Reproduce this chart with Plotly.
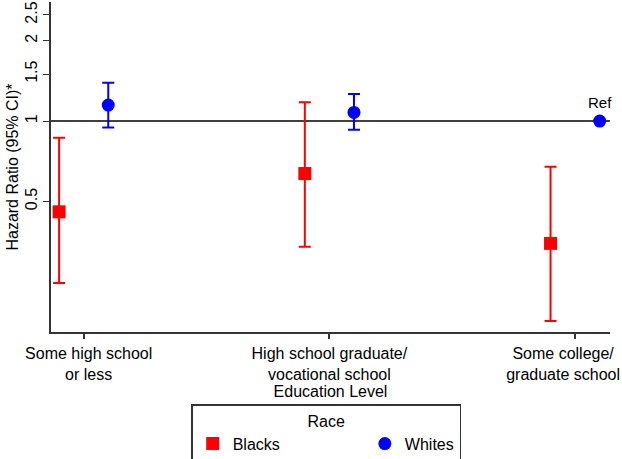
import math
import plotly.graph_objects as go

# categories on the x axis
education = ["Some high school<br>or less",
             "High school graduate/<br>vocational school",
             "Some college/<br>graduate school"]
cat_pos = [1, 2, 3]

# hazard ratios with 95% CI
black_hr = [0.457, 0.636, 0.348]
black_lo = [0.247, 0.338, 0.178]
black_hi = [0.866, 1.178, 0.674]

white_hr = [1.148, 1.078, 1.0]
white_lo = [0.947, 0.928, None]   # last one is the reference group
white_hi = [1.392, 1.263, None]

y_ticks = [0.5, 1, 1.5, 2, 2.5]

FONT = "Liberation Sans, Arial, sans-serif"
offset = 0.1
NB = "\u00a0"
X_RANGE = [0.867, 3.142]
PLOT_W = 622 - 51 - 12


def err(hr, lo, hi):
    up = [None if h is None else h - v for v, h in zip(hr, hi)]
    dn = [None if l is None else v - l for v, l in zip(hr, lo)]
    return up, dn


b_up, b_dn = err(black_hr, black_lo, black_hi)
w_up, w_dn = err(white_hr, white_lo, white_hi)

# stata nudges the outer labels inwards so they stay on the page (px)
label_nudge = [5, 0, -12]
px = (X_RANGE[1] - X_RANGE[0]) / PLOT_W
label_pos = [c + n * px for c, n in zip(cat_pos, label_nudge)]

fig = go.Figure()

# trailing spaces on "Blacks" spread the two legend keys apart like the original
fig.add_trace(go.Scatter(
    x=[c - offset for c in cat_pos], y=black_hr, mode="markers",
    name="Blacks" + NB * 18,
    marker=dict(symbol="square", size=13, color="#ff0000"),
    error_y=dict(type="data", symmetric=False, array=b_up, arrayminus=b_dn,
                 color="#ff0000", thickness=2, width=6),
))
fig.add_trace(go.Scatter(
    x=[c + offset for c in cat_pos], y=white_hr, mode="markers", name="Whites",
    marker=dict(symbol="circle", size=13, color="#0000ff"),
    error_y=dict(type="data", symmetric=False, array=w_up, arrayminus=w_dn,
                 color="#0000ff", thickness=2, width=6),
))

# reference line at HR = 1
fig.add_shape(type="line", xref="paper", x0=0, x1=1, yref="y", y0=1, y1=1,
              line=dict(color="black", width=1.5), layer="below")

# log axis -> annotation y is in log10 units
fig.add_annotation(x=cat_pos[2] + offset, y=math.log10(white_hr[2]), text="Ref",
                   showarrow=False, yshift=19,
                   font=dict(size=15, color="black", family=FONT))

# labels sit on (slightly nudged) major ticks, the tick marks are minor ticks
fig.update_xaxes(
    range=X_RANGE, tickmode="array", tickvals=label_pos, ticktext=education,
    ticks="", ticklabelstandoff=6,
    minor=dict(tickmode="array", tickvals=cat_pos, ticks="outside", ticklen=5,
               tickcolor="#333333", tickwidth=1.5, showgrid=False),
    showline=True, linecolor="#333333", linewidth=1.5,
    showgrid=False, zeroline=False, automargin=False,
    tickfont=dict(size=16, family=FONT, color="black"),
    title=dict(text="Education Level", font=dict(size=16, family=FONT, color="black"),
               standoff=0),
)
fig.update_yaxes(
    type="log", range=[-0.7906, 0.4465], tickmode="array", tickvals=y_ticks,
    ticktext=[str(t) for t in y_ticks], tickangle=-90,
    showline=True, linecolor="#333333", linewidth=1.5, ticks="outside",
    ticklen=6, tickcolor="#333333", showgrid=False, zeroline=False,
    automargin=False,
    tickfont=dict(size=16, family=FONT, color="black"),
    title=dict(text="Hazard Ratio (95% CI)*", font=dict(size=16, family=FONT, color="black"),
               standoff=0),
)

fig.update_layout(
    width=622, height=459,
    margin=dict(l=51, r=12, t=2, b=127, autoexpand=False),
    plot_bgcolor="white", paper_bgcolor="white",
    font=dict(family=FONT, size=16, color="black"),
    legend=dict(
        orientation="h", x=0.2508, xanchor="left", y=-0.2193, yanchor="top",
        title=dict(text="Race", side="top center", font=dict(size=16)),
        bordercolor="#333333", borderwidth=1.5,
        font=dict(size=16, family=FONT, color="black"),
    ),
)

# drop the default 8px body margin so the figure fills the window exactly
fig.write_html("out.html",
               config={"displayModeBar": False},
               post_script="document.body.style.margin='0';"
                           "document.body.style.overflow='hidden';")
